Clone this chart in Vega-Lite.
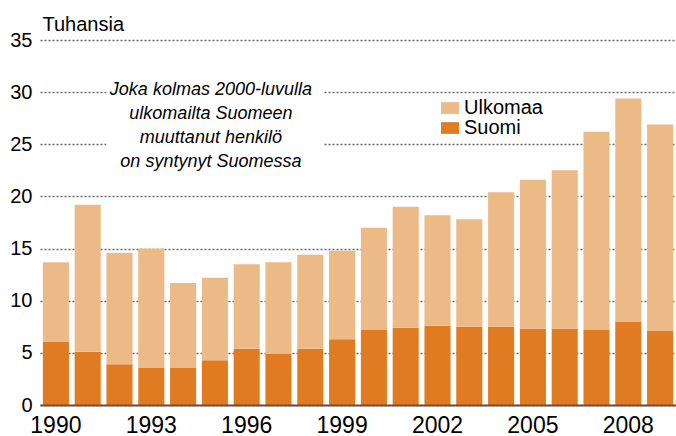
{
  "$schema": "https://vega.github.io/schema/vega-lite/v6.json",
  "width": 636,
  "height": 365,
  "autosize": {"type": "none"},
  "padding": {"left": 40, "top": 40, "right": 0, "bottom": 31},
  "background": "white",
  "config": {
    "view": {"stroke": null},
    "font": "Liberation Sans"
  },
  "datasets": {
    "bars": [
      {"year": "1990", "group": "Suomi", "value": 6.1}, {"year": "1990", "group": "Ulkomaa", "value": 7.6},
      {"year": "1991", "group": "Suomi", "value": 5.1}, {"year": "1991", "group": "Ulkomaa", "value": 14.1},
      {"year": "1992", "group": "Suomi", "value": 3.9}, {"year": "1992", "group": "Ulkomaa", "value": 10.7},
      {"year": "1993", "group": "Suomi", "value": 3.6}, {"year": "1993", "group": "Ulkomaa", "value": 11.4},
      {"year": "1994", "group": "Suomi", "value": 3.6}, {"year": "1994", "group": "Ulkomaa", "value": 8.1},
      {"year": "1995", "group": "Suomi", "value": 4.3}, {"year": "1995", "group": "Ulkomaa", "value": 7.9},
      {"year": "1996", "group": "Suomi", "value": 5.4}, {"year": "1996", "group": "Ulkomaa", "value": 8.1},
      {"year": "1997", "group": "Suomi", "value": 4.9}, {"year": "1997", "group": "Ulkomaa", "value": 8.8},
      {"year": "1998", "group": "Suomi", "value": 5.4}, {"year": "1998", "group": "Ulkomaa", "value": 9.0},
      {"year": "1999", "group": "Suomi", "value": 6.3}, {"year": "1999", "group": "Ulkomaa", "value": 8.5},
      {"year": "2000", "group": "Suomi", "value": 7.2}, {"year": "2000", "group": "Ulkomaa", "value": 9.8},
      {"year": "2001", "group": "Suomi", "value": 7.4}, {"year": "2001", "group": "Ulkomaa", "value": 11.6},
      {"year": "2002", "group": "Suomi", "value": 7.6}, {"year": "2002", "group": "Ulkomaa", "value": 10.6},
      {"year": "2003", "group": "Suomi", "value": 7.5}, {"year": "2003", "group": "Ulkomaa", "value": 10.3},
      {"year": "2004", "group": "Suomi", "value": 7.5}, {"year": "2004", "group": "Ulkomaa", "value": 12.9},
      {"year": "2005", "group": "Suomi", "value": 7.3}, {"year": "2005", "group": "Ulkomaa", "value": 14.3},
      {"year": "2006", "group": "Suomi", "value": 7.3}, {"year": "2006", "group": "Ulkomaa", "value": 15.2},
      {"year": "2007", "group": "Suomi", "value": 7.2}, {"year": "2007", "group": "Ulkomaa", "value": 19.0},
      {"year": "2008", "group": "Suomi", "value": 8.0}, {"year": "2008", "group": "Ulkomaa", "value": 21.4},
      {"year": "2009", "group": "Suomi", "value": 7.1}, {"year": "2009", "group": "Ulkomaa", "value": 19.8}
    ],
    "note": [
      {"year": "1992", "year2": "1998", "top": 31.5, "bottom": 22.5, "mid": "1995", "level": 30.2,
       "text": ["Joka kolmas 2000-luvulla", "ulkomailta Suomeen", "muuttanut henkilö", "on syntynyt Suomessa"]}
    ]
  },
  "layer": [
    {
      "data": {"name": "bars"},
      "mark": {"type": "bar"},
      "encoding": {
        "x": {
          "field": "year", "type": "ordinal", "title": null,
          "scale": {"paddingInner": 0.18, "paddingOuter": 0.09},
          "axis": {
            "labelExpr": "(+datum.value - 1990) % 3 == 0 ? datum.value : ''",
            "labelAngle": 0, "labelFontSize": 23, "labelColor": "#000", "labelBaseline": "top",
            "labelPadding": 9, "ticks": false, "domainColor": "#6a5040", "domainWidth": 2, "zindex": 1
          }
        },
        "y": {
          "field": "value", "type": "quantitative", "stack": "zero",
          "scale": {"domain": [0, 35]},
          "axis": {
            "values": [0, 5, 10, 15, 20, 25, 30, 35],
            "title": "Tuhansia", "titleAngle": 0, "titleAlign": "left", "titleBaseline": "alphabetic",
            "titleX": 2, "titleY": -10, "titleFontSize": 20, "titleFontWeight": "normal", "titleColor": "#000",
            "labelFontSize": 20, "labelColor": "#000", "labelPadding": 8,
            "ticks": false, "domain": false,
            "gridDash": [2, 2], "gridColor": "#6a6a6a", "gridWidth": 1.5
          }
        },
        "color": {
          "field": "group", "type": "nominal",
          "scale": {"domain": ["Ulkomaa", "Suomi"], "range": ["#ecba86", "#e07b22"]},
          "legend": {
            "title": null, "orient": "none", "legendX": 400, "legendY": 58,
            "labelFontSize": 20, "labelColor": "#000", "labelOffset": 4, "rowPadding": 0,
            "symbolType": "M-1,-0.65H1V0.65H-1Z", "symbolSize": 324, "symbolStrokeWidth": 0, "padding": 0
          }
        },
        "order": {"field": "group", "sort": "ascending"}
      }
    },
    {
      "data": {"name": "note"},
      "mark": {"type": "rect", "color": "white"},
      "encoding": {
        "x": {"field": "year", "type": "ordinal", "bandPosition": 0},
        "x2": {"field": "year2", "bandPosition": 1},
        "y": {"field": "top", "type": "quantitative"},
        "y2": {"field": "bottom"}
      }
    },
    {
      "data": {"name": "note"},
      "mark": {"type": "text", "fontStyle": "italic", "fontSize": 18, "lineHeight": 24, "baseline": "middle", "align": "center", "dx": -4, "color": "#000"},
      "encoding": {
        "x": {"field": "mid", "type": "ordinal"},
        "y": {"field": "level", "type": "quantitative"},
        "text": {"field": "text"}
      }
    }
  ]
}
